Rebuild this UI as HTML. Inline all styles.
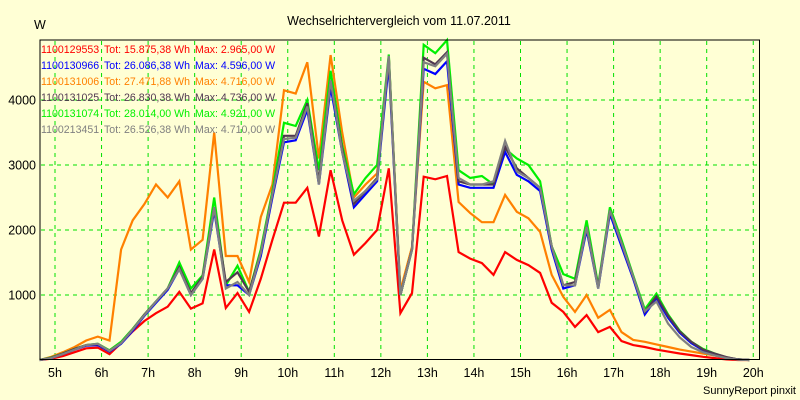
<!DOCTYPE html>
<html><head><meta charset="utf-8"><style>
html,body{margin:0;padding:0;background:#ffffd5;}
svg{display:block;font-family:"Liberation Sans",sans-serif;}
</style></head><body>
<svg id="chart" width="800" height="400" viewBox="0 0 800 400">
<rect x="0" y="0" width="800" height="400" fill="#ffffd5"/>
<text x="399" y="25" text-anchor="middle" font-size="12.5" fill="#000">Wechselrichtervergleich vom 11.07.2011</text>
<text x="34" y="29" font-size="12.5" fill="#000">W</text>
<g id="grid"></g>
<g id="series"></g>
<rect x="40" y="40" width="719.5" height="319.5" fill="none" stroke="#000" stroke-width="1"/>
<g id="axes"></g>
<g id="legend"></g>
<text x="796" y="394" text-anchor="end" font-size="11" fill="#000">SunnyReport pinxit</text>
</svg>
<script>
const hourTicks=[5,6,7,8,9,10,11,12,13,14,15,16,17,18,19,20];
const yTicks=[1000,2000,3000,4000];
const t0=4.67, dt=0.25;
const red=[0,20,60,120,180,190,90,260,440,600,720,820,1050,790,870,1700,800,1030,740,1250,1850,2420,2420,2650,1900,2920,2150,1620,1800,2000,2950,720,1030,2820,2780,2830,1660,1560,1490,1310,1660,1540,1460,1340,880,740,510,690,430,510,290,230,200,160,130,100,75,50,30,10,0,0];
const orange=[0,50,120,200,300,360,300,1700,2150,2400,2700,2500,2750,1700,1850,3500,1600,1600,1200,2200,2700,4150,4100,4580,3100,4690,3500,2500,2700,2870,4660,1070,1740,4280,4180,4230,2430,2260,2120,2120,2540,2280,2180,1970,1310,970,740,1000,650,770,430,310,280,240,200,160,130,100,70,40,10,0];
const blue=[0,30,90,160,220,230,130,250,450,680,880,1080,1400,1000,1250,2300,1150,1150,1000,1600,2500,3350,3380,3850,2700,4200,3200,2350,2550,2750,4550,1000,1700,4480,4400,4596,2700,2650,2650,2650,3200,2850,2750,2600,1700,1100,1150,2000,1100,2250,1750,1250,700,950,650,420,260,150,90,40,10,0];
const dark=[0,35,100,170,230,245,140,260,470,700,900,1100,1430,1030,1280,2350,1200,1350,1050,1650,2550,3450,3450,3950,2750,4300,3250,2400,2600,2800,4650,1000,1700,4650,4550,4736,2750,2700,2700,2700,3280,2950,2800,2650,1750,1150,1200,2050,1120,2300,1800,1280,740,980,680,440,280,160,100,45,10,0];
const green=[0,40,100,170,230,250,150,280,480,700,900,1100,1500,1100,1300,2500,1150,1450,1050,1700,2600,3650,3600,4000,2920,4450,3300,2550,2800,3000,4700,1000,1700,4850,4720,4921,2920,2800,2830,2700,3250,3100,3000,2750,1750,1320,1250,2150,1150,2350,1850,1300,780,1020,700,450,280,170,100,40,10,0];
const gray=[0,30,90,160,230,250,140,260,470,690,900,1100,1400,1000,1250,2350,1100,1200,1000,1650,2550,3400,3420,3900,2700,4300,3200,2450,2600,2780,4680,1000,1700,4580,4520,4710,2800,2700,2700,2750,3370,2900,2800,2650,1750,1150,1150,2050,1100,2300,1800,1280,750,900,560,350,200,120,70,30,5,0];
const seriesNames=["1100129553","1100130966","1100131006","1100131025","1100131074","1100213451"];
const totals=["15.875,38","26.086,38","27.471,88","26.830,38","28.014,00","26.526,38"];
const maxima=["2.965,00","4.596,00","4.716,00","4.736,00","4.921,00","4.710,00"];
const colors=["#ff0000","#0000ff","#ff8000","#503850","#00f000","#808080"];
const seriesData=[red,blue,orange,dark,green,gray];
const drawOrder=[2,0,4,1,3,5];
const NS="http://www.w3.org/2000/svg";
function xs(h){return 55+(h-5)*46.55;}
function ys(v){return 360-v*0.065;}
const grid=document.getElementById('grid'),axes=document.getElementById('axes');
hourTicks.forEach(h=>{
 const l=document.createElementNS(NS,'line');
 l.setAttribute('x1',xs(h));l.setAttribute('x2',xs(h));l.setAttribute('y1',41);l.setAttribute('y2',359);
 l.setAttribute('stroke','#00e000');l.setAttribute('stroke-dasharray','4,4');
 
 
 grid.appendChild(l);
 const t=document.createElementNS(NS,'text');
 t.setAttribute('x',xs(h));t.setAttribute('y',377);t.setAttribute('text-anchor','middle');t.setAttribute('font-size','12.5');
 t.textContent=h+'h';
 
 
 axes.appendChild(t);
});
yTicks.forEach(v=>{
 const l=document.createElementNS(NS,'line');
 l.setAttribute('x1',41);l.setAttribute('x2',759);l.setAttribute('y1',ys(v));l.setAttribute('y2',ys(v));
 l.setAttribute('stroke','#00e000');l.setAttribute('stroke-dasharray','4,4');
 
 
 grid.appendChild(l);
 const t=document.createElementNS(NS,'text');
 t.setAttribute('x',36);t.setAttribute('y',ys(v)+4.5);t.setAttribute('text-anchor','end');t.setAttribute('font-size','12.5');
 t.textContent=v;
 
 
 axes.appendChild(t);
});
const sg=document.getElementById('series');
drawOrder.forEach(i=>{
 const pts=seriesData[i].map((v,k)=>xs(t0+k*dt).toFixed(1)+','+ys(v).toFixed(1)).join(' ');
 const p=document.createElementNS(NS,'polyline');
 p.setAttribute('points',pts);p.setAttribute('fill','none');p.setAttribute('stroke',colors[i]);p.setAttribute('stroke-width','2.2');
 p.setAttribute('stroke-linejoin','miter');
 
 
 sg.appendChild(p);
});
const lg=document.getElementById('legend');
seriesNames.forEach((n,i)=>{
 const y=53+i*16;
 [[41,n],[104,'Tot: '+totals[i]+' Wh'],[195,'Max: '+maxima[i]+' W']].forEach(([x,s])=>{
  const t=document.createElementNS(NS,'text');
  t.setAttribute('x',x);t.setAttribute('y',y);t.setAttribute('font-size','10.6');t.setAttribute('fill',colors[i]);
  t.textContent=s;
  
  
  lg.appendChild(t);
 });
});
</script>
</body></html>
